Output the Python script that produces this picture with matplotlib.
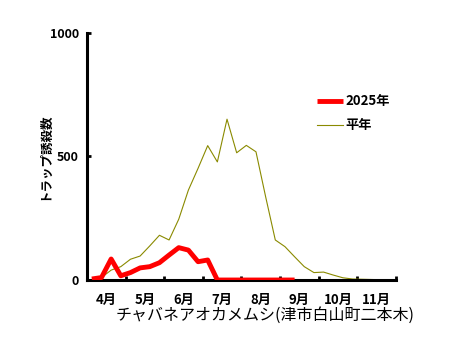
import matplotlib
matplotlib.use("Agg")
import matplotlib.pyplot as plt
import numpy as np

plt.rcParams['font.family'] = ['Noto Sans CJK JP', 'DejaVu Sans']

months = ["4月", "5月", "6月", "7月", "8月", "9月", "10月", "11月"]
# quarter-month periods, April 1st quarter .. November 4th quarter
y2025 = [4, 10, 85, 17, 30, 49, 54, 70, 101, 131, 121, 74, 81, 0,
         0, 0, 0, 0, 0, 0, 0, 0]
heinen = [2, 10, 40, 54, 84, 97, 138, 181, 162, 246, 364, 452, 544, 478,
          651, 515, 545, 519, 337, 162, 135, 94, 54, 30, 32, 20, 9, 4, 3, 2, 1, 0]

fig = plt.figure(figsize=(4.56, 3.57), dpi=100)
ax = fig.add_axes([0.1908, 0.2157, 0.8684 - 0.1908, 0.9076 - 0.2157])

x_h = np.arange(len(heinen))
x_r = np.arange(len(y2025))
ax.plot(x_h, heinen, color='#8a8a00', lw=0.8, label='平年', zorder=2)
ax.plot(x_r, y2025, color='#ff0000', lw=3.5, label='2025年', zorder=3,
        solid_joinstyle='round', solid_capstyle='butt')

ax.set_xlim(-0.5, 31.5)
ax.set_ylim(0, 1000)
for s in ['top', 'right']:
    ax.spines[s].set_visible(False)
for s in ['left', 'bottom']:
    ax.spines[s].set_linewidth(2.2)

ax.set_yticks([0, 500, 1000])
ax.set_yticklabels(['0', '500', '1000'], fontsize=9, fontweight='bold')
ax.tick_params(axis='y', direction='in', length=3, width=2, pad=6)

ax.set_xticks(np.arange(3.5, 32, 4))
ax.set_xticklabels([])
ax.tick_params(axis='x', which='major', direction='in', length=3, width=2)
ax.set_xticks(np.arange(1.5, 32, 4), minor=True)
ax.set_xticklabels(months, minor=True, fontsize=9.5, fontweight='bold')
ax.tick_params(axis='x', which='minor', length=0, pad=9)

ax.set_ylabel('トラップ誘殺数', fontsize=9, fontweight='bold', labelpad=-1)
ax.text(0.576, -0.142, 'チャバネアオカメムシ(津市白山町二本木)', transform=ax.transAxes,
        ha='center', va='center', fontsize=11.5)

handles, labels = ax.get_legend_handles_labels()
leg = ax.legend(handles[::-1], labels[::-1], loc='upper left', bbox_to_anchor=(0.705, 0.80),
                frameon=False, handlelength=2.0, handletextpad=0.15,
                labelspacing=0.75, prop={'weight': 'bold', 'size': 9.5})

fig.savefig('out.png', dpi=100)
